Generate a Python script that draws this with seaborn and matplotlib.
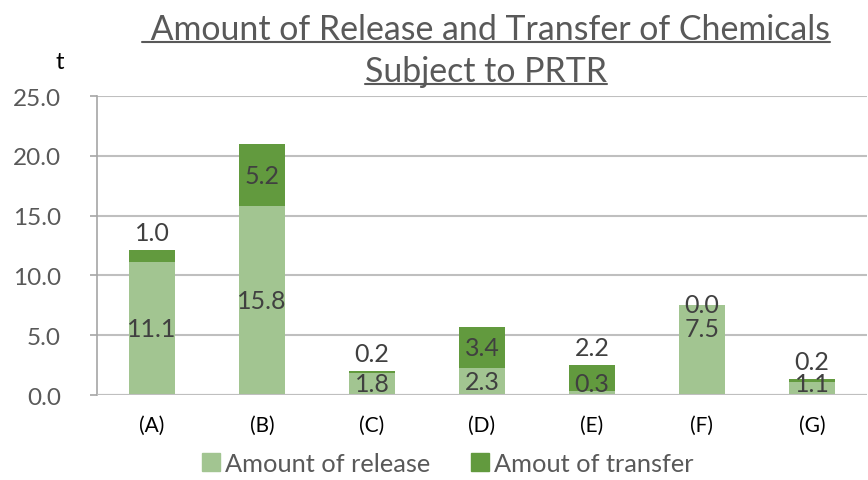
import pandas as pd
import seaborn as sns
import matplotlib.pyplot as plt
from matplotlib.patches import Patch

categories = ['(A)', '(B)', '(C)', '(D)', '(E)', '(F)', '(G)']
release = [11.1, 15.8, 1.8, 2.3, 0.3, 7.5, 1.1]
transfer = [1.0, 5.2, 0.2, 3.4, 2.2, 0.0, 0.2]

release_color = '#A2C591'
transfer_color = '#629A3E'

df = pd.DataFrame({'Category': categories, 'Release': release, 'Transfer': transfer})
df['Total'] = df['Release'] + df['Transfer']

sns.set_theme(style='white')
plt.rcParams['font.family'] = ['Lato', 'DejaVu Sans']

fig = plt.figure(figsize=(8.68, 4.81), dpi=100)
ax = fig.add_axes([0.1118, 0.1767, 0.887, 0.6213])

# stacked bars: total first, release drawn on top
sns.barplot(data=df, x='Category', y='Total', color=transfer_color, width=0.42,
            saturation=1, linewidth=0, ax=ax, zorder=3)
sns.barplot(data=df, x='Category', y='Release', color=release_color, width=0.42,
            saturation=1, linewidth=0, ax=ax, zorder=3)

ax.set_ylim(0, 25)
ax.set_xlim(-0.5, 6.5)
ax.set_yticks([0, 5, 10, 15, 20, 25])
ax.set_yticklabels([f'{v:.1f}' for v in [0, 5, 10, 15, 20, 25]], fontsize=17.5, color='#595959')
ax.tick_params(axis='x', labelsize=15, colors='#000000', length=0, pad=14)
ax.tick_params(axis='y', length=5, width=1.2, colors='#A6A6A6', labelcolor='#595959',
               left=True, pad=21)
ax.set_xlabel('')
ax.set_ylabel('')
ax.grid(axis='y', color='#BFBFBF', linewidth=1.5, zorder=0)
for s in ['top', 'right', 'bottom']:
    ax.spines[s].set_visible(False)
ax.spines['left'].set_color('#A6A6A6')
ax.spines['left'].set_linewidth(1.2)
ax.axhline(0, color='#BFBFBF', linewidth=1.5, zorder=4)

# data labels
for i, (r, t) in enumerate(zip(release, transfer)):
    ry = max(r / 2, 1.0)
    if i == 5:
        ry = r * 0.74
    ax.text(i, ry, f'{r:.1f}', ha='center', va='center', fontsize=18, color='#404040', zorder=5)
    if t >= 3:
        ty = r + t / 2
    else:
        ty = r + t + 1.5
    if t == 0:
        ty = r + 0.1
    ax.text(i, ty, f'{t:.1f}', ha='center', va='center', fontsize=18, color='#404040', zorder=5)

fig.text(0.069, 0.87, 't', fontsize=17, color='#000000', ha='center', va='center')

# underlined two-line title
t1 = fig.text(0.56, 0.937, ' Amount of Release and Transfer of Chemicals', fontsize=24.4,
              color='#595959', ha='center', va='center')
t2 = fig.text(0.56, 0.85, 'Subject to PRTR', fontsize=24.4,
              color='#595959', ha='center', va='center')
fig.canvas.draw()
renderer = fig.canvas.get_renderer()
for t in [t1, t2]:
    bb = t.get_window_extent(renderer).transformed(fig.transFigure.inverted())
    fig.add_artist(plt.Line2D([bb.x0, bb.x1], [bb.y0 + 0.006, bb.y0 + 0.006],
                              color='#595959', linewidth=1.5, transform=fig.transFigure))

handles = [Patch(color=release_color, label='Amount of release'),
           Patch(color=transfer_color, label='Amout of transfer')]
fig.legend(handles=handles, loc='center', bbox_to_anchor=(0.516, 0.035), ncol=2,
           frameon=False, fontsize=18.3, handlelength=0.7, handleheight=0.7,
           handletextpad=0.2, columnspacing=1.6, labelcolor='#595959')

fig.savefig('out.png', dpi=100)
